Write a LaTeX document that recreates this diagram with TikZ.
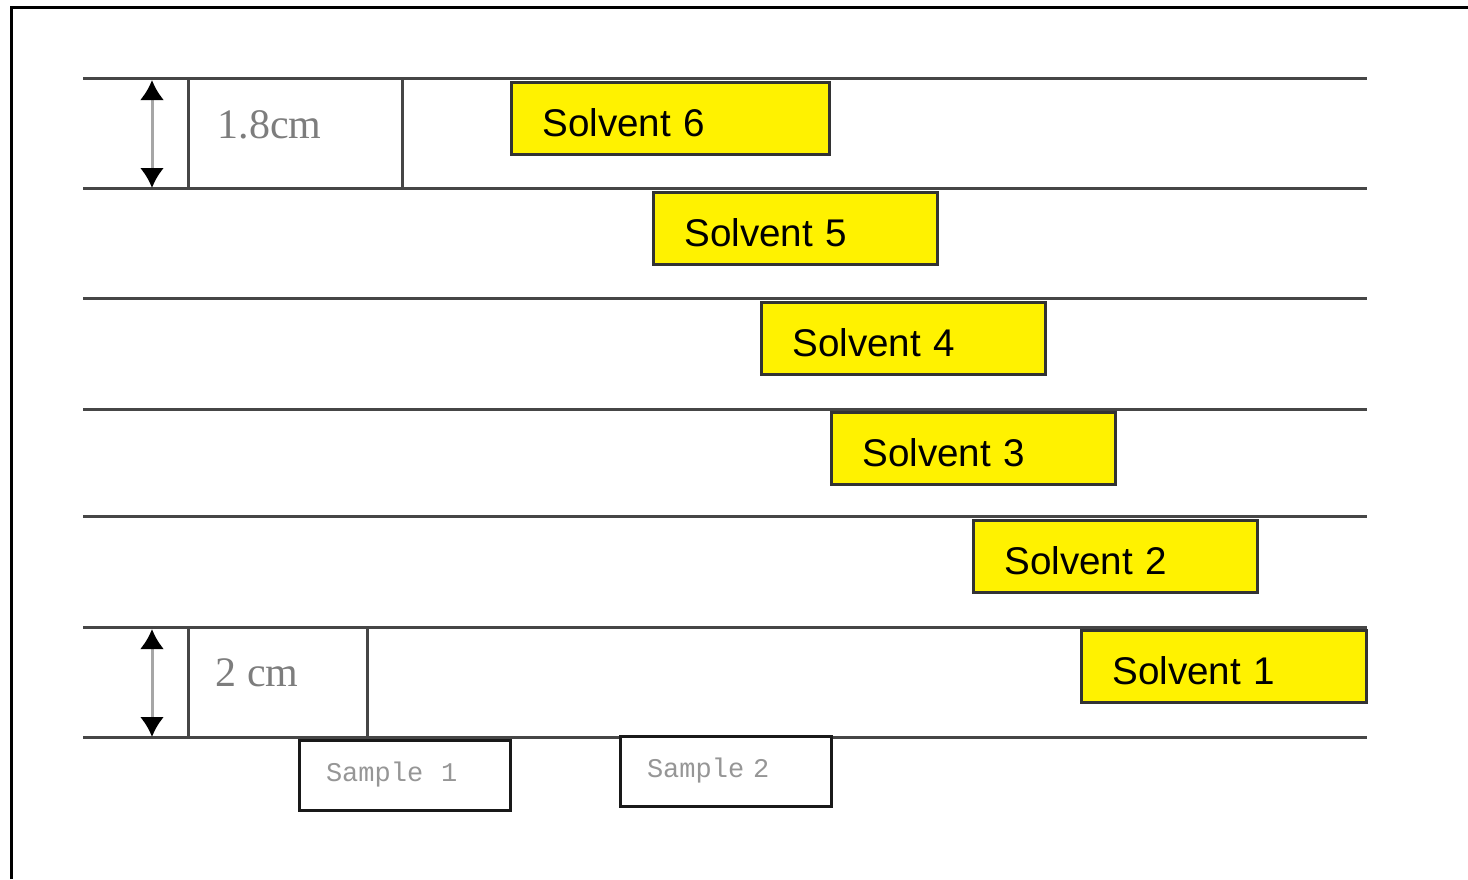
\documentclass[tikz,border=0pt]{standalone}
\usepackage{fontspec}
\setmainfont{Liberation Sans}
\newfontfamily\cmfont{Liberation Serif}
\newfontfamily\smpfont{Liberation Mono}
\usetikzlibrary{arrows.meta,positioning}
\definecolor{rulegray}{RGB}{70,70,70}
\definecolor{labelgray}{RGB}{125,125,125}
\definecolor{smpgray}{RGB}{150,150,150}
\tikzset{  solvent/.style={draw=black!80,fill=yellow,line width=2.5pt,anchor=north west,minimum height=72pt,inner xsep=31pt,text height=37pt,text depth=0pt,align=left,font=\fontsize{38.6}{40}\selectfont},
  sample/.style={draw=black!90,fill=white,line width=3pt,anchor=north west,minimum height=70pt,inner xsep=27pt,text width=157pt,align=left,text=smpgray,font=\smpfont\fontsize{27}{29}\selectfont},
  lane/.style={rulegray,line width=3pt},
  dimlabel/.style={anchor=west,text=labelgray,font=\cmfont\fontsize{42}{44}\selectfont},
  dimarrow/.style={gray!70,line width=3pt,{Latex[length=20pt,width=24pt,color=black]}-{Latex[length=20pt,width=24pt,color=black]}} }

\begin{document}
\begin{tikzpicture}[x=1pt,y=-1pt]
   \useasboundingbox (0,0) rectangle (1468,879);
   % frame
   \draw[black,line width=3pt] (11.5,879) -- (11.5,7.5) -- (1468,7.5);
   % lanes
   \foreach \y in {78,188,298,409,516,627,737}
     \draw[lane] (83,\y) -- (1367,\y);
   \draw[lane] (188,78) -- (188,188);
   \draw[lane] (402,78) -- (402,188);
   \draw[lane] (188,627) -- (188,737);
   \draw[lane] (367,627) -- (367,737);
   % height marks
   \coordinate (top1) at (152,80);
   \coordinate (bot1) at (152,188);
   \coordinate (top2) at (152,629);
   \coordinate (bot2) at (152,737);
   \draw[dimarrow] (top1) -- (bot1);
   \draw[dimarrow] (top2) -- (bot2);
   \node[dimlabel] (hsolv) at (214,125) {1.8cm};
   \node[dimlabel] (hsamp) at (212,673) {2 cm};
   % solvents
   \node[solvent,text width=256pt] (s6) at (510,81)  {Solvent 6};
   \node[solvent,text width=222pt] (s5) at (652,191) {Solvent 5};
   \node[solvent,text width=222pt] (s4) at (760,301) {Solvent 4};
   \node[solvent,text width=222pt] (s3) at (830,411) {Solvent 3};
   \node[solvent,text width=222pt] (s2) at (972,519) {Solvent 2};
   \node[solvent,text width=223pt] (s1) at (1080,629) {Solvent 1};
   % samples
   \node[sample] (smp1) at (297.5,738.5) {Sample\ \ 1};
   \node[sample] (smp2) at (618.5,734.5) {Sample 2};
  \end{tikzpicture}
\end{document}
